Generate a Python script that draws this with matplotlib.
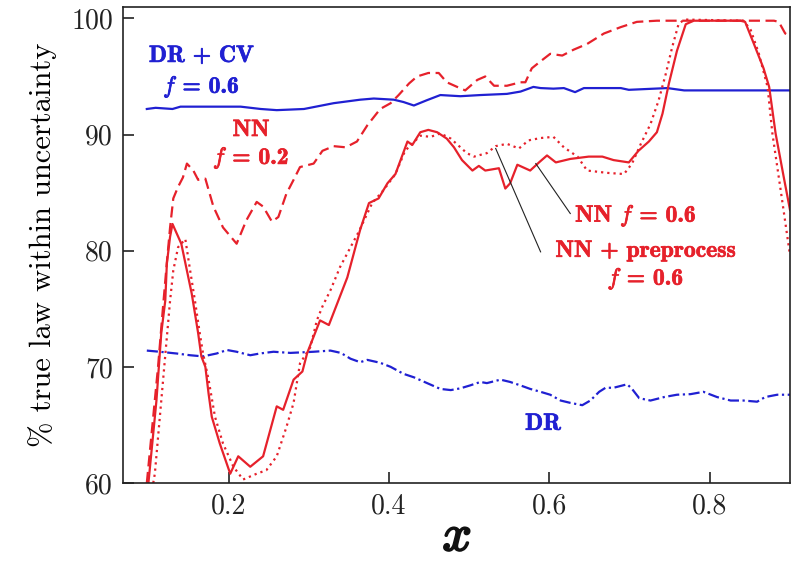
import matplotlib
matplotlib.use("Agg")
import matplotlib.pyplot as plt
import matplotlib.patheffects as pe

# ---------------- data ----------------
nn06_x = [0.100,0.110,0.116,0.121,0.123,0.127,0.130,0.141,0.154,0.162,0.166,0.171,0.175,0.179,0.189,0.202,
          0.212,0.227,0.243,0.260,0.268,0.281,0.292,0.298,0.314,0.325,0.348,0.364,0.375,0.387,0.398,0.408,
          0.423,0.429,0.439,0.449,0.460,0.472,0.481,0.491,0.504,0.512,0.520,0.537,0.545,0.551,0.560,0.576,
          0.587,0.597,0.608,0.626,0.649,0.666,0.680,0.699,0.711,0.724,0.734,0.741,0.749,0.759,0.770,0.780,
          0.838,0.844,0.855,0.867,0.874,0.882,0.892,0.900]
nn06_y = [60.0,67.1,72.9,75.7,78.9,81.2,82.3,80.6,76.3,72.9,70.9,70.0,67.7,65.7,63.4,60.8,
          62.3,61.4,62.3,66.6,66.3,68.9,69.6,71.2,74.0,73.6,77.7,81.8,84.1,84.5,85.8,86.6,
          89.4,89.1,90.2,90.4,90.2,89.65,88.9,87.8,86.9,87.3,86.9,87.1,85.35,85.8,87.4,86.9,
          87.6,88.2,87.6,87.9,88.1,88.1,87.8,87.6,88.6,89.4,90.2,91.8,94.4,97.2,99.5,99.8,
          99.8,99.7,97.8,95.7,94.1,90.1,86.4,83.5]

pre_x = [0.106,0.108,0.127,0.131,0.137,0.146,0.152,0.158,0.164,0.168,0.175,0.183,0.193,0.206,0.218,0.235,
         0.247,0.260,0.272,0.281,0.289,0.302,0.310,0.317,0.327,0.339,0.352,0.362,0.379,0.393,0.408,0.420,
         0.439,0.452,0.464,0.477,0.489,0.497,0.506,0.522,0.533,0.547,0.562,0.574,0.589,0.605,0.618,0.635,
         0.647,0.672,0.693,0.703,0.714,0.726,0.736,0.745,0.753,0.761,0.768,0.842,0.851,0.861,0.872,0.878,
         0.889,0.900]
pre_y = [60.0,60.8,75.7,78.3,80.3,81.0,78.3,75.7,72.9,71.2,68.9,65.7,63.4,61.4,60.3,60.8,
         61.1,62.3,64.8,66.9,70.3,71.7,74.0,75.2,76.6,78.6,80.3,81.6,84.1,85.2,86.6,88.6,
         89.9,89.8,90.1,89.65,88.9,88.4,88.1,88.4,89.0,89.2,88.8,89.5,89.7,89.8,88.9,88.1,
         86.9,86.7,86.6,87.5,89.2,90.9,92.9,95.2,97.5,99.5,99.9,99.8,99.0,97.0,94.1,90.1,
         84.9,79.6]

nn02_x = [0.098,0.105,0.112,0.118,0.123,0.127,0.131,0.137,0.143,0.148,0.156,0.162,0.171,0.181,0.193,0.210,
          0.222,0.235,0.243,0.254,0.262,0.272,0.281,0.289,0.306,0.317,0.331,0.346,0.360,0.373,0.389,0.402,
          0.412,0.425,0.435,0.449,0.462,0.472,0.485,0.495,0.510,0.520,0.531,0.547,0.564,0.570,0.578,0.587,
          0.601,0.616,0.630,0.647,0.668,0.689,0.709,0.734,0.880,0.886,0.894,0.900]
nn02_y = [60.0,65.0,70.0,75.0,79.0,82.0,84.5,85.5,86.3,87.5,86.9,86.1,86.2,83.8,82.0,80.6,
          82.6,84.2,83.8,82.5,82.9,84.9,86.1,87.2,87.5,88.6,89.0,88.9,89.4,90.8,92.2,92.7,
          93.4,94.4,95.0,95.3,95.3,94.5,94.1,93.8,94.7,95.0,94.2,94.2,94.5,94.5,95.7,96.2,
          96.95,96.8,97.3,97.8,98.7,99.25,99.7,99.8,99.8,99.7,98.7,98.5]

drcv_x = [0.098,0.109,0.130,0.140,0.215,0.240,0.260,0.294,0.331,0.364,0.381,0.406,0.418,0.431,0.447,0.464,
          0.489,0.514,0.547,0.564,0.580,0.589,0.605,0.618,0.632,0.643,0.689,0.699,0.747,0.768,0.847,0.900]
drcv_y = [92.2,92.3,92.2,92.4,92.4,92.2,92.1,92.2,92.7,93.0,93.1,93.0,92.8,92.5,92.95,93.4,
          93.3,93.4,93.5,93.7,94.1,94.0,93.95,94.0,93.65,94.0,94.0,93.85,94.0,93.8,93.8,93.8]

dr_x = [0.098,0.114,0.135,0.152,0.168,0.185,0.198,0.210,0.227,0.239,0.256,0.277,0.306,0.327,0.340,0.352,
        0.364,0.373,0.389,0.402,0.418,0.431,0.464,0.477,0.489,0.501,0.514,0.522,0.539,0.551,0.564,0.576,
        0.589,0.601,0.614,0.626,0.641,0.651,0.662,0.670,0.680,0.697,0.703,0.712,0.726,0.743,0.759,0.776,
        0.792,0.809,0.826,0.842,0.859,0.869,0.884,0.900]
dr_y = [71.4,71.3,71.15,71.0,70.9,71.15,71.45,71.3,71.0,71.15,71.3,71.2,71.3,71.4,71.2,70.7,
        70.4,70.6,70.35,70.0,69.4,69.1,68.1,68.0,68.15,68.4,68.7,68.6,68.9,68.7,68.4,68.1,
        67.85,67.6,67.1,66.9,66.7,67.1,67.85,68.2,68.2,68.5,68.1,67.3,67.1,67.4,67.6,67.65,
        67.85,67.4,67.1,67.1,67.0,67.4,67.6,67.6]

x_ticks = [0.2, 0.4, 0.6, 0.8]
y_ticks = [60, 70, 80, 90, 100]

# ---------------- style ----------------
plt.rcParams['font.family'] = ['cmr10']
plt.rcParams['mathtext.fontset'] = 'custom'
plt.rcParams['mathtext.it'] = 'cmmi10'
plt.rcParams['mathtext.rm'] = 'cmb10'
plt.rcParams['mathtext.bf'] = 'cmb10'
plt.rcParams['axes.unicode_minus'] = False

RED = '#e6212b'
BLUE = '#2020d2'

fig = plt.figure(figsize=(7.92, 5.64), dpi=100)
ax = fig.add_axes([0.155, 0.1436, 0.8425, 0.8444])

ax.plot(drcv_x, drcv_y, color=BLUE, lw=1.6, solid_joinstyle='round')
ax.plot(dr_x, dr_y, color=BLUE, lw=1.6, linestyle=(0, (5, 1.6, 1, 1.6)))
ax.plot(nn02_x, nn02_y, color=RED, lw=1.6, linestyle=(0, (5, 2.5)))
ax.plot(pre_x, pre_y, color=RED, lw=1.6, linestyle=(0, (1, 1.8)))
ax.plot(nn06_x, nn06_y, color=RED, lw=1.6)

ax.set_xlim(0.068, 0.9)
ax.set_ylim(60, 101)
ax.set_xticks(x_ticks)
ax.set_xticklabels([f"{v:.1f}" for v in x_ticks])
ax.set_yticks(y_ticks)
ax.set_yticklabels([str(v) for v in y_ticks])
ax.tick_params(direction='in', length=8, width=1.2, top=False, right=False,
               labelsize=20, pad=7, colors='#222222')
for s in ax.spines.values():
    s.set_linewidth(1.2)
    s.set_color('#222222')

ax.set_ylabel('% true law within uncertainty', fontsize=22, labelpad=10)
fig.text(0.577, 0.006, r'$x$', fontsize=37, ha='center', va='bottom', color='#111111',
         path_effects=[pe.withStroke(linewidth=1.5, foreground='#111111')])

bold = dict(family=['cmb10'], fontsize=17)
stroke_r = [pe.withStroke(linewidth=0.5, foreground=RED)]
stroke_b = [pe.withStroke(linewidth=0.5, foreground=BLUE)]
ax.text(0.166, 95.35, 'DR + CV\n$f$ = 0.6', color=BLUE, ha='center', va='center',
        linespacing=1.3, path_effects=stroke_b, **bold)
ax.text(0.228, 89.1, 'NN\n$f$ = 0.2', color=RED, ha='center', va='center',
        linespacing=1.15, path_effects=stroke_r, **bold)
ax.text(0.632, 83.05, 'NN $f$ = 0.6', color=RED, ha='left', va='center',
        path_effects=stroke_r, **bold)
ax.text(0.72, 78.7, 'NN + preprocess\n$f$ = 0.6', color=RED, ha='center', va='center',
        linespacing=1.15, path_effects=stroke_r, **bold)
ax.text(0.592, 65.1, 'DR', color=BLUE, ha='center', va='center', path_effects=stroke_b, **bold)

ax.plot([0.533, 0.589], [88.8, 79.9], color='#222222', lw=0.8)
ax.plot([0.583, 0.626], [87.5, 83.2], color='#222222', lw=0.8)

fig.savefig('out.png', dpi=100)
